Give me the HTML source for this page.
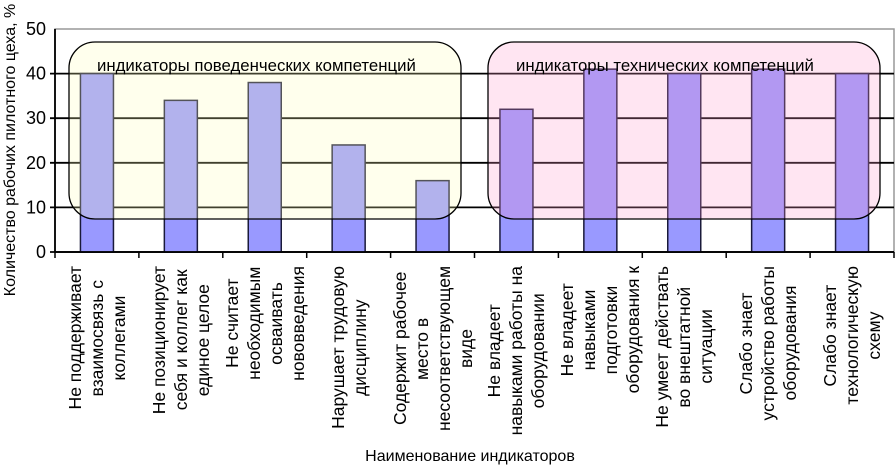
<!DOCTYPE html>
<html><head><meta charset="utf-8">
<style>
html,body{margin:0;padding:0;background:#fff;}
#wrap{position:relative;width:896px;height:466px;overflow:hidden;font-family:"Liberation Sans",Arial,sans-serif;}
svg{position:absolute;left:0;top:0;}
.cat{position:absolute;top:266px;writing-mode:vertical-rl;transform:translateX(-50%) rotate(180deg);text-align:center;font-size:17.5px;line-height:22px;color:#000;white-space:nowrap;}
</style></head>
<body>
<div id="wrap">
<svg id="chart" width="896" height="466"></svg>
<div id="labels"></div>
</div>
<script>
const categories = [
 ["Не поддерживает","взаимосвязь с","коллегами"],
 ["Не позиционирует","себя и коллег как","единое целое"],
 ["Не считает","необходимым","осваивать","нововведения"],
 ["Нарушает трудовую","дисциплину"],
 ["Содержит рабочее","место в","несоответствующем","виде"],
 ["Не владеет","навыками работы на","оборудовании"],
 ["Не владеет","навыками","подготовки","оборудования к"],
 ["Не умеет действать","во внештатной","ситуации"],
 ["Слабо знает","устройство работы","оборудования"],
 ["Слабо знает","технологическую","схему"]
];
const values = [40,34,38,24,16,32,41,40,41,40];
const yTicks = [0,10,20,30,40,50];
const groupLabels = ["индикаторы поведенческих компетенций","индикаторы технических компетенций"];

const NS="http://www.w3.org/2000/svg";
const svg=document.getElementById('chart');
const X0=55,X1=894,Y0=252,Y1=29,YMAX=50;
const bw=(X1-X0)/categories.length;
const y=v=>Y0-(v/YMAX)*(Y0-Y1);
const xc=i=>X0+bw*(i+0.5);
function mk(tag,attrs){const e=document.createElementNS(NS,tag);for(const k in attrs)e.setAttribute(k,attrs[k]);svg.appendChild(e);return e;}

const border=mk('rect',{x:X0,y:Y1,width:X1-X0,height:Y0-Y1,fill:'none',stroke:'#999','stroke-width':1.5});


yTicks.forEach(t=>{
 const l=mk('line',{x1:X0-5,x2:X1,y1:y(t),y2:y(t),stroke:'#000','stroke-width':t===YMAX?0:1.8});
 
 
 const tx=mk('text',{x:X0-9,y:y(t)+6,'text-anchor':'end','font-size':18,fill:'#000'});
 tx.textContent=t;
 
 
});
values.forEach((v,i)=>{
 const r=mk('rect',{x:xc(i)-16.5,y:y(v),width:33,height:Y0-y(v),fill:'#9999ff',stroke:'#1a1a3a','stroke-width':1.5});
 
 
});
mk('line',{x1:X0,x2:X0,y1:Y1,y2:Y0,stroke:'#000','stroke-width':1.8});
mk('line',{x1:X0,x2:X1,y1:Y0,y2:Y0,stroke:'#000','stroke-width':1.8});
for(let i=0;i<=categories.length;i++){
 const t=mk('line',{x1:X0+bw*i,x2:X0+bw*i,y1:Y0,y2:Y0+6,stroke:'#000','stroke-width':1.5});
 
 
}
const boxes=[{x:69,w:392,fill:'rgba(255,255,185,0.25)'},{x:488,w:392,fill:'rgba(255,150,205,0.25)'}];
boxes.forEach((b,i)=>{
 const r=mk('rect',{x:b.x,y:42,width:b.w,height:177,rx:26,ry:26,fill:b.fill,stroke:'#000','stroke-width':1.3});
 
 
 const t=mk('text',{x:b.x+28,y:71,'font-size':16.8,fill:'#000'});
 t.textContent=groupLabels[i];
 
 
});
const yt=mk('text',{x:0,y:0,'text-anchor':'middle','font-size':16,fill:'#000',transform:'translate(15,150) rotate(-90)'});
yt.textContent='Количество рабочих пилотного цеха, %';


const xt=mk('text',{x:470,y:461,'text-anchor':'middle','font-size':16,fill:'#000'});
xt.textContent='Наименование индикаторов';



const lab=document.getElementById('labels');
categories.forEach((c,i)=>{
 const d=document.createElement('div');
 d.className='cat';
 d.style.left=xc(i)+'px';
 d.innerHTML=c.join('<br>');
 
 
 lab.appendChild(d);
});
</script>
</body></html>
